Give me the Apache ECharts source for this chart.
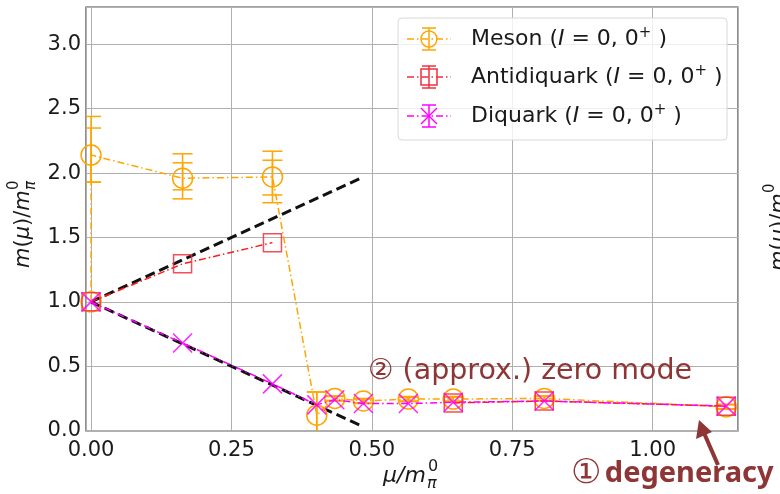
<!DOCTYPE html>
<html>
<head>
<meta charset="utf-8">
<script src="https://cdn.jsdelivr.net/npm/echarts@6/dist/echarts.min.js"></script>
<style>
  html, body { margin: 0; padding: 0; background: #fff; }
  #chart { width: 780px; height: 494px; }
</style>
</head>
<body>
<div id="chart"></div>
<script>
// Chemical potential values (mu / m_pi^0)
const muMeson = [0, 0, 0.163, 0.323, 0.402, 0.434, 0.485, 0.565, 0.645, 0.807, 1.131];
const muQuark = [0, 0.163, 0.323, 0.402, 0.434, 0.485, 0.565, 0.645, 0.807, 1.131];

// Masses m(mu) / m_pi^0
const mMeson = [1.0, 2.14, 1.96, 1.97, 0.12, 0.25, 0.23, 0.245, 0.245, 0.25, 0.185];
const mAntidiquark = [1.0, 1.295, 1.46, null, null, null, null, 0.215, 0.23, 0.19];
const mDiquark = [1.0, 0.68, 0.363, 0.20, 0.24, 0.21, 0.21, 0.22, 0.23, 0.19];

// Meson uncertainties: statistical and total bands
const mesonStatLo = [null, 1.93, 1.87, 1.83, -0.06, 0.235, 0.215, 0.23, 0.23, 0.235, 0.17];
const mesonStatHi = [null, 2.35, 2.08, 2.10, 0.30, 0.265, 0.245, 0.26, 0.26, 0.265, 0.20];
const mesonTotLo = [null, 1.93, 1.80, 1.77, -0.06, 0.23, 0.21, 0.225, 0.225, 0.23, 0.165];
const mesonTotHi = [null, 2.44, 2.15, 2.17, 0.30, 0.27, 0.25, 0.265, 0.265, 0.27, 0.205];

// Leading-order expectation m = 1 +/- 2 mu
const guideMu = [0, 0.483];
const guideUpper = [1.0, 1.966];
const guideLower = [1.0, 0.034];

// Axis ticks
const xTicks = [0, 0.25, 0.5, 0.75, 1.0];
const yTicks = [0, 0.5, 1.0, 1.5, 2.0, 2.5, 3.0];

const ORANGE = '#FFA500';
const RED = '#F0303F';
const MAGENTA = '#FF00FF';
const BROWN = '#8E3535';
const FONT = 'DejaVu Sans';

const pairs = (xs, ys) => xs.map((x, i) => [x, ys[i] == null ? '-' : ys[i]]);
const bars = (xs, lo, hi) => xs.map((x, i) => [x, lo[i], hi[i]]).filter(d => d[1] != null);

function errorBarRenderer(color, capHalf) {
  return function (params, api) {
    const x = api.value(0);
    const a = api.coord([x, api.value(1)]);
    const b = api.coord([x, api.value(2)]);
    const style = { stroke: color, lineWidth: 1.5, fill: null };
    return {
      type: 'group',
      children: [
        { type: 'line', shape: { x1: a[0], y1: a[1], x2: b[0], y2: b[1] }, style },
        { type: 'line', shape: { x1: a[0] - capHalf, y1: a[1], x2: a[0] + capHalf, y2: a[1] }, style },
        { type: 'line', shape: { x1: b[0] - capHalf, y1: b[1], x2: b[0] + capHalf, y2: b[1] }, style }
      ]
    };
  };
}

const X_SYMBOL = 'path://M0,0L10,10M10,0L0,10';
const DASHDOT = [7, 3, 1.5, 3];

// Legend entries drawn with small marker glyphs
function legendRow(y, color, marker, label) {
  const cx = 429;
  const line = { stroke: color, lineWidth: 1.5, lineDash: DASHDOT };
  const s = { stroke: color, lineWidth: 1.5, fill: null };
  const kids = [
    { type: 'line', shape: { x1: 407, y1: y, x2: 451, y2: y }, style: line },
    { type: 'line', shape: { x1: cx, y1: y - 11, x2: cx, y2: y + 11 }, style: s },
    { type: 'line', shape: { x1: cx - 7, y1: y - 11, x2: cx + 7, y2: y - 11 }, style: s },
    { type: 'line', shape: { x1: cx - 7, y1: y + 11, x2: cx + 7, y2: y + 11 }, style: s }
  ];
  if (marker === 'circle') kids.push({ type: 'circle', shape: { cx, cy: y, r: 8 }, style: s });
  if (marker === 'rect') kids.push({ type: 'rect', shape: { x: cx - 8, y: y - 8, width: 16, height: 16 }, style: s });
  if (marker === 'x') {
    kids.push({ type: 'line', shape: { x1: cx - 8, y1: y - 8, x2: cx + 8, y2: y + 8 }, style: s });
    kids.push({ type: 'line', shape: { x1: cx - 8, y1: y + 8, x2: cx + 8, y2: y - 8 }, style: s });
  }
  kids.push({
    type: 'text', x: 471, y: y, style: {
      text: '{n|' + label + ' (}{i|I}{n| = 0, 0}{s|+}{n| )}',
      verticalAlign: 'middle',
      rich: {
        n: { fontFamily: FONT, fontSize: 22, fill: '#1a1a1a' },
        i: { fontFamily: FONT, fontSize: 22, fontStyle: 'italic', fill: '#1a1a1a' },
        s: { fontFamily: FONT, fontSize: 15, fill: '#1a1a1a', padding: [0, 0, 12, 0] }
      }
    }
  });
  kids.forEach(k => { k.z = 52; });
  return kids;
}

// Axis title m(mu)/m_pi^0, rotated to read upward
function massTitle(x, yBottom) {
  const it = { fontFamily: FONT, fontSize: 21, fontStyle: 'italic', fill: '#1a1a1a' };
  return {
    type: 'group', x: x, y: yBottom, rotation: Math.PI / 2,
    children: [
      { type: 'text', x: 0, y: 0, style: {
          text: '{i|m}{n|(}{i|μ}{n|)/}{i|m}', verticalAlign: 'middle',
          rich: { i: it, n: Object.assign({}, it, { fontStyle: 'normal' }) } } },
      { type: 'text', x: 78, y: 7, style: Object.assign({}, it, { fontSize: 15, text: 'π', verticalAlign: 'middle' }) },
      { type: 'text', x: 78, y: -10, style: Object.assign({}, it, { fontSize: 15, fontStyle: 'normal', text: '0', verticalAlign: 'middle' }) }
    ]
  };
}

const chart = echarts.init(document.getElementById('chart'), null, { renderer: 'canvas' });

const option = {
  animation: false,
  backgroundColor: '#fff',
  grid: { left: 86, top: 7, width: 652, height: 424, show: true, borderColor: '#444', borderWidth: 1.2, backgroundColor: 'transparent' },
  xAxis: {
    type: 'value', min: -0.009, max: 1.152, minInterval: 0.25, maxInterval: 0.25,
    axisLine: { show: false },
    axisTick: { show: false },
    axisLabel: {
      interval: 0, showMinLabel: false, showMaxLabel: false, margin: 9,
      fontFamily: FONT, fontSize: 21, color: '#1a1a1a',
      formatter: v => (xTicks.some(t => Math.abs(t - v) < 1e-6) ? v.toFixed(2) : '')
    },
    splitLine: { show: true, lineStyle: { color: '#b0b0b0', width: 1 } }
  },
  yAxis: {
    type: 'value', min: -0.003, max: 3.29, minInterval: 0.5, maxInterval: 0.5,
    axisLine: { show: false },
    axisTick: { show: false },
    axisLabel: {
      interval: 0, showMinLabel: false, showMaxLabel: false, margin: 5,
      fontFamily: FONT, fontSize: 21, color: '#1a1a1a',
      formatter: v => (yTicks.some(t => Math.abs(t - v) < 1e-6) ? v.toFixed(1) : '')
    },
    splitLine: { show: true, lineStyle: { color: '#b0b0b0', width: 1 } }
  },
  series: [
    { type: 'line', data: pairs(guideMu, guideUpper), symbol: 'none', z: 1,
      lineStyle: { color: '#111', width: 3, type: [10, 5] } },
    { type: 'line', data: pairs(guideMu, guideLower), symbol: 'none', z: 1,
      lineStyle: { color: '#111', width: 3, type: [10, 5] } },
    { type: 'custom', renderItem: errorBarRenderer(ORANGE, 10), clip: true, z: 2,
      encode: { x: 0, y: [1, 2] }, data: bars(muMeson, mesonTotLo, mesonTotHi) },
    { type: 'custom', renderItem: errorBarRenderer(ORANGE, 10), clip: true, z: 2,
      encode: { x: 0, y: [1, 2] }, data: bars(muMeson, mesonStatLo, mesonStatHi) },
    { name: 'Meson', type: 'line', data: pairs(muMeson, mMeson), z: 3,
      symbol: 'circle', symbolSize: 20,
      itemStyle: { color: 'rgba(0,0,0,0)', borderColor: ORANGE, borderWidth: 1.5 },
      lineStyle: { color: ORANGE, width: 1.5, type: DASHDOT } },
    { name: 'Antidiquark', type: 'line', data: pairs(muQuark, mAntidiquark), z: 4,
      connectNulls: false, symbol: 'rect', symbolSize: 18,
      itemStyle: { color: 'rgba(0,0,0,0)', borderColor: RED, borderWidth: 1.5, opacity: 0.85 },
      lineStyle: { color: '#FF1A1A', width: 1.5, type: DASHDOT } },
    { name: 'Diquark', type: 'line', data: pairs(muQuark, mDiquark), z: 5,
      symbol: X_SYMBOL, symbolSize: 19,
      itemStyle: { color: 'rgba(0,0,0,0)', borderColor: MAGENTA, borderWidth: 1.5, opacity: 0.85 },
      lineStyle: { color: MAGENTA, width: 1.5, type: DASHDOT } }
  ],
  graphic: [
    { type: 'rect', z: 50, shape: { x: 398, y: 18, width: 329, height: 122, r: 4 },
      style: { fill: 'rgba(255,255,255,0.8)', stroke: '#d8d8d8', lineWidth: 1 } },
    { type: 'group', z: 52, children: [].concat(
        legendRow(39, ORANGE, 'circle', 'Meson'),
        legendRow(77, RED, 'rect', 'Antidiquark'),
        legendRow(116, MAGENTA, 'x', 'Diquark')) },
    massTitle(24, 268),
    massTitle(780, 271),
    { type: 'group', x: 383, y: 476, children: [
        { type: 'text', x: 0, y: 0, style: { text: 'μ/m', fontFamily: FONT, fontSize: 22, fontStyle: 'italic', fill: '#1a1a1a', verticalAlign: 'middle' } },
        { type: 'text', x: 44, y: 8, style: { text: 'π', fontFamily: FONT, fontSize: 16, fontStyle: 'italic', fill: '#1a1a1a', verticalAlign: 'middle' } },
        { type: 'text', x: 45, y: -9, style: { text: '0', fontFamily: FONT, fontSize: 16, fill: '#1a1a1a', verticalAlign: 'middle' } }
      ] },
    { type: 'text', z: 60, x: 368, y: 372, style: {
        text: '② (approx.) zero mode', fontFamily: FONT, fontSize: 28.5, fill: BROWN, verticalAlign: 'middle' } },
    { type: 'text', z: 60, x: 571, y: 474, style: {
        text: '{c|①} {b|degeneracy}', verticalAlign: 'middle',
        rich: {
          c: { fontFamily: FONT, fontSize: 34, fill: BROWN },
          b: { fontFamily: 'Noto Sans', fontSize: 29, fontWeight: 'bold', fill: BROWN }
        } } },
    { type: 'line', z: 60, shape: { x1: 718, y1: 465, x2: 704, y2: 433 },
      style: { stroke: BROWN, lineWidth: 4 } },
    { type: 'polygon', z: 60, shape: { points: [[699, 420], [696, 439], [712, 432]] },
      style: { fill: BROWN } }
  ]
};

chart.setOption(option);
</script>
</body>
</html>
